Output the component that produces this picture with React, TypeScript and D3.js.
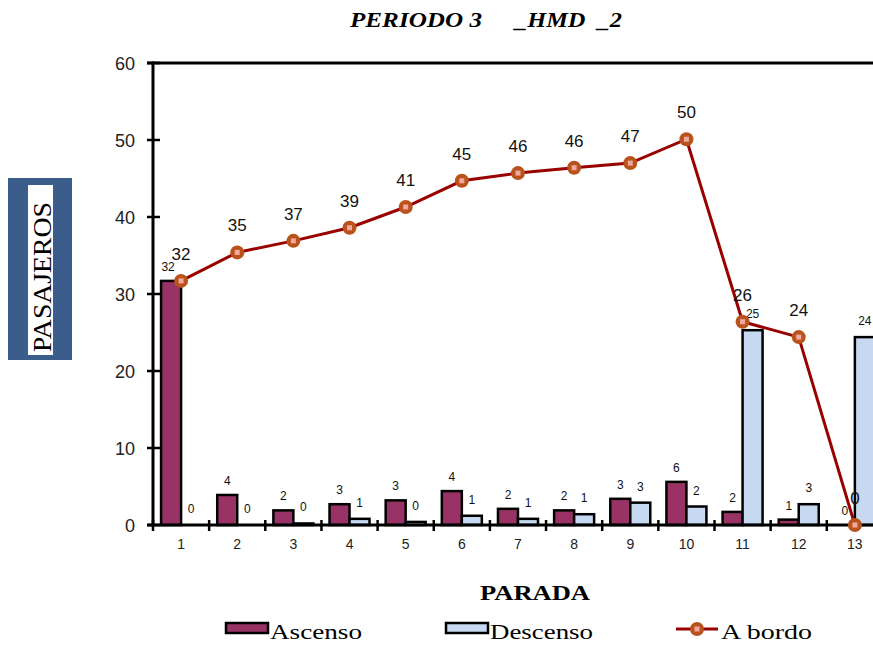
import React from 'react';
import * as d3 from 'd3';

const categories = ['1', '2', '3', '4', '5', '6', '7', '8', '9', '10', '11', '12', '13'];
const ascenso = [31.7, 3.9, 1.9, 2.7, 3.2, 4.4, 2.1, 1.9, 3.4, 5.6, 1.7, 0.7, 0.0];
const descenso = [0.0, 0.0, 0.2, 0.8, 0.4, 1.2, 0.8, 1.4, 2.9, 2.4, 25.3, 2.7, 24.4];
const aBordo = [31.7, 35.4, 36.9, 38.6, 41.3, 44.7, 45.7, 46.4, 47.0, 50.1, 26.4, 24.4, 0.0];
const yTicks = [0, 10, 20, 30, 40, 50, 60];

const W = 873;
const H = 646;
const left = 153;
const bandW = 56.15;
const top = 63;
const bottom = 525;

const ASC = '#993366';
const DESC = '#c6d9f0';
const LINE = '#990000';
const MK = '#b9531b';
const MKIN = '#f0a8a0';

export default function App() {
  const x = d3.scaleBand<string>().domain(categories).range([left, left + bandW * categories.length]).padding(0);
  const y = d3.scaleLinear().domain([0, 60]).range([bottom, top]);
  const fmt = d3.format('.0f');
  const bw = x.bandwidth();
  const barW = 20;
  const off = (bw - 2 * barW) / 2;
  const cx = (c: string) => (x(c) as number) + bw / 2;
  const line = d3.line<number>().x((_, i) => cx(categories[i])).y((d) => y(d));

  const sans = "'Liberation Sans', Arial, sans-serif";
  const serif = "'Liberation Serif', 'Times New Roman', serif";

  return (
    <svg width={W} height={H} style={{ position: 'absolute', left: 0, top: 0, background: '#fff' }}>
      <rect x={0} y={0} width={W} height={H} fill="#fff" />
      {/* Title */}
      <text x={350} y={27} fontFamily={serif} fontWeight="bold" fontStyle="italic" fontSize={20} textLength={132} lengthAdjust="spacingAndGlyphs">PERIODO 3</text>
      <text x={515} y={27} fontFamily={serif} fontWeight="bold" fontStyle="italic" fontSize={20} textLength={107} lengthAdjust="spacingAndGlyphs" style={{ whiteSpace: 'pre' }}>_HMD  _2</text>

      {/* Y axis title box */}
      <rect x={8} y={178} width={64} height={182} fill="#3a5d8c" />
      <rect x={28} y={185} width={25} height={170} fill="#fff" />
      <text transform="translate(51,352) rotate(-90)" fontFamily={serif} fontSize={25} textLength={150} lengthAdjust="spacingAndGlyphs" fill="#000">PASAJEROS</text>

      {/* Bars */}
      {categories.map((c, i) => (
        <g key={'b' + c}>
          <rect x={(x(c) as number) + off} y={y(ascenso[i])} width={barW} height={bottom - y(ascenso[i])} fill={ASC} stroke="#000" strokeWidth={2.5} />
          <rect x={(x(c) as number) + off + barW} y={y(descenso[i])} width={barW} height={bottom - y(descenso[i])} fill={DESC} stroke="#000" strokeWidth={2.5} />
        </g>
      ))}

      {/* Frame / axes */}
      <line x1={147} x2={W} y1={top} y2={top} stroke="#000" strokeWidth={3} />
      <line x1={left} x2={left} y1={top - 1.5} y2={bottom + 1.5} stroke="#000" strokeWidth={3} />
      <line x1={147} x2={W} y1={bottom} y2={bottom} stroke="#000" strokeWidth={3} />
      {yTicks.map((t) => (
        <g key={'yt' + t}>
          <line x1={147} x2={160} y1={y(t)} y2={y(t)} stroke="#000" strokeWidth={2.5} />
          <text x={135} y={y(t) + 6.5} textAnchor="end" fontFamily={sans} fontSize={18} fill="#222">{t}</text>
        </g>
      ))}
      {categories.map((c) => (
        <g key={'xt' + c}>
          <line x1={x(c) as number} x2={x(c) as number} y1={520} y2={531} stroke="#000" strokeWidth={2.5} />
          <text x={cx(c)} y={549} textAnchor="middle" fontFamily={sans} fontSize={14} fill="#222">{c}</text>
        </g>
      ))}

      {/* Bar labels */}
      {categories.map((c, i) => (
        <g key={'bl' + c} fontFamily={sans} fontSize={12} fill="#111" textAnchor="middle">
          <text x={(x(c) as number) + off + barW / 2 - (i === 0 ? 3 : 0)} y={y(ascenso[i]) - 10}>{fmt(ascenso[i])}</text>
          <text x={(x(c) as number) + off + barW * 1.5} y={y(descenso[i]) - 12}>{fmt(descenso[i])}</text>
        </g>
      ))}

      {/* Line */}
      <path d={line(aBordo) as string} fill="none" stroke={LINE} strokeWidth={3} />
      {aBordo.map((v, i) => (
        <g key={'m' + i}>
          <circle cx={cx(categories[i])} cy={y(v)} r={7} fill={MK} />
          <rect x={cx(categories[i]) - 2.5} y={y(v) - 2.5} width={5} height={5} fill={MKIN} />
        </g>
      ))}
      {aBordo.map((v, i) => (
        <text key={'ml' + i} x={cx(categories[i])} y={y(v) - 21} textAnchor="middle" fontFamily={sans} fontSize={17} fill="#111">{fmt(v)}</text>
      ))}

      {/* X axis title */}
      <text x={535} y={600} textAnchor="middle" fontFamily={serif} fontWeight="bold" fontSize={21} textLength={110} lengthAdjust="spacingAndGlyphs">PARADA</text>

      {/* Legend */}
      <rect x={226} y={623} width={42} height={10} fill={ASC} stroke="#000" strokeWidth={2.5} />
      <text x={270} y={639} fontFamily={serif} fontSize={21} textLength={92} lengthAdjust="spacingAndGlyphs">Ascenso</text>
      <rect x={446} y={623} width={42} height={10} fill={DESC} stroke="#000" strokeWidth={2.5} />
      <text x={490} y={639} fontFamily={serif} fontSize={21} textLength={103} lengthAdjust="spacingAndGlyphs">Descenso</text>
      <line x1={676} x2={718} y1={629} y2={629} stroke={LINE} strokeWidth={3} />
      <circle cx={697} cy={629} r={7} fill={MK} />
      <rect x={694.5} y={626.5} width={5} height={5} fill={MKIN} />
      <text x={721} y={639} fontFamily={serif} fontSize={21} textLength={91} lengthAdjust="spacingAndGlyphs">A bordo</text>
    </svg>
  );
}
